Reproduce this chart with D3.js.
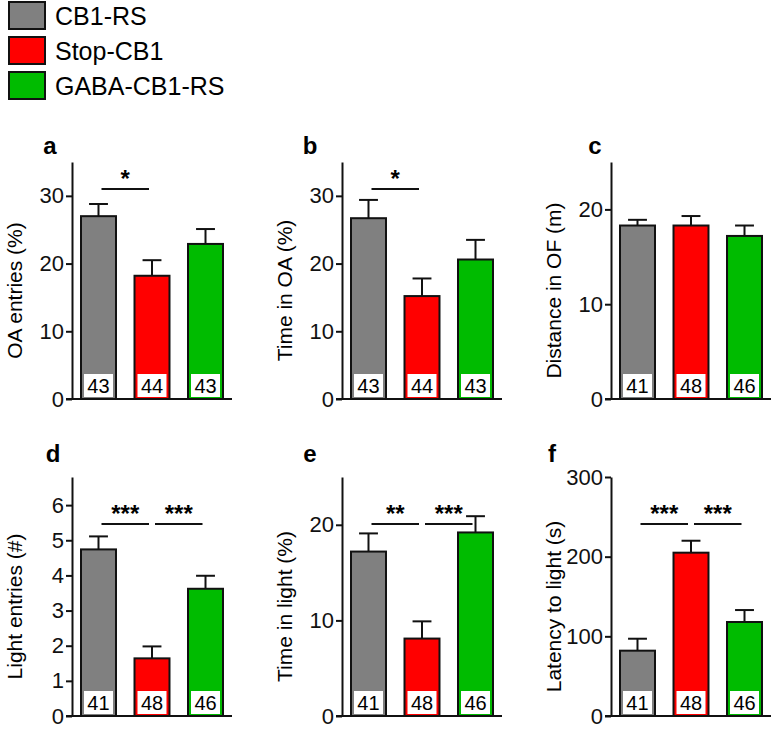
<!DOCTYPE html><html><head><meta charset="utf-8">
<script src="https://cdn.jsdelivr.net/npm/d3@7"></script>
<style>body{margin:0;background:#fff}text{font-family:"Liberation Sans",Arial,sans-serif}</style></head><body>
<svg id="c" width="774" height="729"></svg>
<script>
const groups = ["CB1-RS","Stop-CB1","GABA-CB1-RS"];
const colors = ["#808080","#ff0000","#00bb00"];
const panelLetters = ["a","b","c","d","e","f"];
const yLabels = ["OA entries (%)","Time in OA (%)","Distance in OF (m)","Light entries (#)","Time in light (%)","Latency to light (s)"];
const yMax = [35,35,25,6.8,25,300];
const yTicks = [[0,10,20,30],[0,10,20,30],[0,10,20],[0,1,2,3,4,5,6],[0,10,20],[0,100,200,300]];
const means = [[27.0,18.2,22.9],[26.7,15.2,20.6],[18.3,18.3,17.2],[4.74,1.64,3.62],[17.2,8.1,19.2],[82,205,118]];
const sems = [[1.8,2.3,2.2],[2.7,2.6,2.9],[0.6,1.0,1.1],[0.37,0.34,0.37],[1.9,1.8,1.7],[15,15,15]];
const nLabels = [[43,44,43],[43,44,43],[41,48,46],[41,48,46],[41,48,46],[41,48,46]];
const sigs = [[["*",0,1]],[["*",0,1]],[],[["***",0,1],["***",1,2]],[["**",0,1],["***",1,2]],[["***",0,1],["***",1,2]]];

const svg = d3.select("#c");
groups.forEach((g,i)=>{
  svg.append("rect").attr("x",9).attr("y",2+i*35).attr("width",36).attr("height",27).attr("fill",colors[i]).attr("stroke","#111").attr("stroke-width",2);
  svg.append("text").attr("x",55).attr("y",25+i*35).attr("font-size",25).text(g);
});
const colX=[72,342,611], rowTop=[162,477], rowBot=[399,716];
const letterDx=[-22,-32,-16,-19,-32,-59];
panelLetters.forEach((L,p)=>{
  const ax=colX[p%3], row=Math.floor(p/3), top=rowTop[row], bot=rowBot[row];
  const g=svg.append("g");
  const y=d3.scaleLinear().domain([0,yMax[p]]).range([bot,top]);
  const x=d3.scaleBand().domain([0,1,2]).range([ax+9,ax+151]).paddingInner(0.346).paddingOuter(0);
  means[p].forEach((m,i)=>{
    const bx=x(i), bw=x.bandwidth(), cx=bx+bw/2, ey=y(m+sems[p][i]);
    g.append("line").attr("x1",cx).attr("x2",cx).attr("y1",y(m)).attr("y2",ey).attr("stroke","#111").attr("stroke-width",2);
    g.append("line").attr("x1",cx-bw*0.27).attr("x2",cx+bw*0.27).attr("y1",ey).attr("y2",ey).attr("stroke","#111").attr("stroke-width",2);
    g.append("rect").attr("x",bx).attr("y",y(m)).attr("width",bw).attr("height",bot-y(m)).attr("fill",colors[i]).attr("stroke","#111").attr("stroke-width",2);
    g.append("rect").attr("x",bx+3).attr("y",bot-25).attr("width",bw-6).attr("height",23).attr("fill","#fff");
    g.append("text").attr("x",cx).attr("y",bot-6).attr("text-anchor","middle").attr("font-size",20).text(nLabels[p][i]);
  });
  const ya=g.append("g").attr("transform",`translate(${ax},0)`).call(d3.axisLeft(y).tickValues(yTicks[p]).tickFormat(d3.format("~g")).tickSize(6).tickSizeOuter(0).tickPadding(2));
  ya.select(".domain").attr("stroke","#111").attr("stroke-width",2);
  ya.selectAll(".tick line").attr("stroke","#111").attr("stroke-width",2);
  ya.selectAll(".tick text").attr("font-size",22).attr("fill","#111").attr("font-family","Liberation Sans, Arial");
  g.append("line").attr("x1",ax-6).attr("x2",ax+160).attr("y1",bot).attr("y2",bot).attr("stroke","#111").attr("stroke-width",2);
  g.append("text").attr("transform",`translate(${ax-50},${(top+bot)/2+10}) rotate(-90)`).attr("text-anchor","middle").attr("font-size",21).text(yLabels[p]);
  g.append("text").attr("x",ax+letterDx[p]).attr("y",row?top-15:top-8).attr("font-size",24).attr("font-weight","bold").attr("text-anchor","middle").text(L);
  const sy = top + (p<3?27:47);
  sigs[p].forEach(([s,a,b])=>{
    const x1=x(a)+x.bandwidth()/2+3, x2=x(b)+x.bandwidth()/2-3;
    g.append("line").attr("x1",x1).attr("x2",x2).attr("y1",sy).attr("y2",sy).attr("stroke","#111").attr("stroke-width",2);
    g.append("text").attr("x",(x1+x2)/2).attr("y",sy-2).attr("text-anchor","middle").attr("font-size",24).attr("font-weight","bold").text(s);
  });
});
</script></body></html>
